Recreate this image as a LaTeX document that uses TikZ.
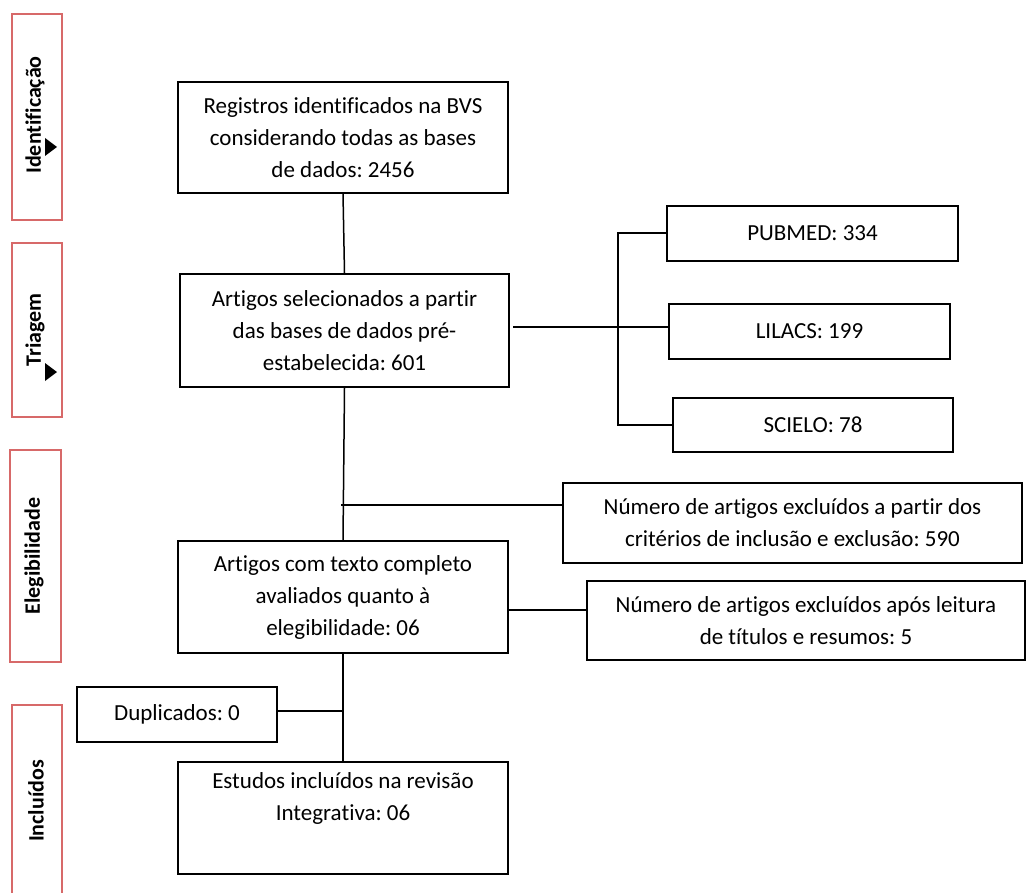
\documentclass[tikz,border=0pt]{standalone}
\usepackage{fontspec}
\setmainfont{Carlito}[Ligatures={NoCommon,NoRare}]
\frenchspacing
\begin{document}
\begin{tikzpicture}[x=1pt,y=-1pt,
  box/.style={draw=black,line width=1.5pt,rectangle,inner sep=0pt,align=center,font=\fontsize{23}{32}\selectfont},
  phase/.style={draw=phasered,line width=1.8pt,rectangle,inner sep=0pt},
  conn/.style={draw=black,line width=1.5pt},
  phaselbl/.style={rotate=90,font=\bfseries\fontsize{22}{26}\selectfont,inner sep=0pt},
  tri/.style={fill=black}
]
\definecolor{phasered}{RGB}{215,105,105}
\useasboundingbox (0,0) rectangle (1027,893);
\fill[white] (0,0) rectangle (1027,893);

% phase boxes
\draw[phase] (12,14) rectangle (62,220);
\draw[phase] (12,243) rectangle (62,417);
\draw[phase] (10,450) rectangle (61,662);
\draw[phase] (12,705) rectangle (62,905);
\node[phaselbl] (pid) at (35,115) {Identificação};
\node[phaselbl] (ptr) at (35,330) {Triagem};
\node[phaselbl] (pel) at (34,556) {Elegibilidade};
\node[phaselbl] (pin) at (36,801) {Incluídos};
\fill[tri] (45,138) -- (57,147) -- (45,156) -- cycle;
\fill[tri] (45,363) -- (57,372) -- (45,381) -- cycle;

% main boxes
\node[box,minimum width=330pt,minimum height=111pt] (b1) at (343,137.5) {Registros identificados na BVS\\considerando todas as bases\\de dados: 2456};
\node[box,minimum width=329pt,minimum height=113pt] (b2) at (344.5,330.5) {Artigos selecionados a partir\\das bases de dados pré-\\estabelecida: 601};
\node[box,minimum width=330pt,minimum height=112pt] (b3) at (343,597) {Artigos com texto completo\\avaliados quanto à\\elegibilidade: 06};
\node[box,minimum width=330pt,minimum height=112pt] (b4) at (343,818) {};
\node[font=\fontsize{23}{32}\selectfont,align=center,anchor=north,inner sep=0pt] (b4t) at (343,772) {Estudos incluídos na revisão\\Integrativa: 06};

% side boxes
\node[box,minimum width=291pt,minimum height=55pt] (pub) at (812.5,233.5) {PUBMED: 334};
\node[box,minimum width=281pt,minimum height=55pt] (lil) at (809.5,331.5) {LILACS: 199};
\node[box,minimum width=280pt,minimum height=54pt] (sci) at (813,425) {SCIELO: 78};
\node[box,minimum width=459pt,minimum height=80pt] (ex1) at (792.5,523) {Número de artigos excluídos a partir dos\\critérios de inclusão e exclusão: 590};
\node[box,minimum width=438pt,minimum height=79pt] (ex2) at (806,620.5) {Número de artigos excluídos após leitura\\de títulos e resumos: 5};
\node[box,minimum width=200pt,minimum height=55pt] (dup) at (177,714.5) {Duplicados: 0};

% connectors
\draw[conn] (b1.south) -- (b2.north);
\draw[conn] (b2.south) -- (b3.north);
\coordinate (j1) at (341,505);
\draw[conn] (j1) -- (j1 -| ex1.west);
\coordinate (j0) at (513,327);
\draw[conn] (j0) -- (j0 -| lil.west);
\coordinate (bt) at (618,233);
\draw[conn] (bt -| pub.west) -- (bt) -- (bt |- sci.west) -- (sci.west);
\coordinate (j2) at (508,610);
\draw[conn] (j2) -- (j2 -| ex2.west);
\draw[conn] (b3.south) -- (b4.north);
\coordinate (j3) at (343,711);
\draw[conn] (j3) -- (j3 -| dup.east);
\end{tikzpicture}
\end{document}
